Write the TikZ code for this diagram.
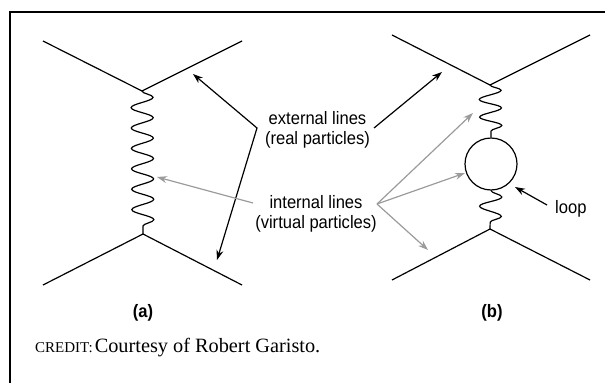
\documentclass[tikz,border=0pt]{standalone}
\usepackage{fontspec}
\setmainfont{Liberation Serif}
\setsansfont{Liberation Sans}
\newfontfamily\narrowsans{Liberation Sans}[FakeStretch=0.92]
\usetikzlibrary{positioning, decorations.pathmorphing, arrows.meta}

\definecolor{pointergrey}{RGB}{155,155,155}
\tikzset{
    >={Stealth[length=10pt, width=7pt]},
    fermionline/.style={line width=1.2pt},
    photonline/.style={line width=1.2pt, decorate, decoration={snake, amplitude=11pt, segment length=#1}},
    pointer/.style={line width=1.2pt},
    greypointer/.style={line width=1.2pt, draw=pointergrey},
    annot/.style={font=\narrowsans\fontsize{18}{20}\selectfont, align=center, inner sep=0pt},
    panel/.style={font=\narrowsans\bfseries\fontsize{18}{20}\selectfont, inner sep=0pt},
}

\begin{document}
\begin{tikzpicture}[x=1pt, y=-1pt]
    \useasboundingbox (0,0) rectangle (605,383);
    \draw[line width=2.8pt] (605,12) -- (10,12) -- (10,383);

    % (a) tree level exchange
    \coordinate (a1) at (43,41);
    \coordinate [right=199pt of a1] (a2);
    \coordinate (av1) at (142,91);
    \coordinate (av2) at (143,234);
    \coordinate (a3) at (43,285);
    \coordinate [right=199pt of a3] (a4);
    \draw[fermionline] (a1) -- (av1) -- (a2);
    \draw[fermionline] (a3) -- (av2) -- (a4);
    \draw[photonline=20.4pt] (av1) -- (av2);
    \node[panel] (panela) at (143,313) {(a)};

    % (b) one loop correction
    \coordinate (b1) at (392,35);
    \coordinate [right=198pt of b1] (b2);
    \coordinate (bv1) at (490,85);
    \node[draw, circle, line width=1.2pt, minimum size=52pt, inner sep=0pt] (loop) at (491,164) {};
    \coordinate (bv2) at (490,229);
    \coordinate (b3) at (392,280);
    \coordinate [right=198pt of b3] (b4);
    \draw[fermionline] (b1) -- (bv1) -- (b2);
    \draw[fermionline] (b3) -- (bv2) -- (b4);
    \draw[photonline=17.6pt] (bv1) -- (loop.north);
    \draw[photonline=19.5pt] (loop.south) -- (bv2);
    \node[panel] (panelb) at (492,313) {(b)};

    % labels
    \node[annot] (ext) at (317.5,130) {external lines\\(real particles)};
    \node[annot] (int) at (316,214) {internal lines\\(virtual particles)};
    \node[annot, anchor=base west] (lp) at (555,213) {loop};

    % pointers
    \coordinate (extl) at (257,128);
    \coordinate (extr) at (374,128);
    \coordinate (intl) at (253,203);
    \coordinate (intr) at (377,204);
    \coordinate (lpt) at (547,205);
    \coordinate (tipa1) at (193,74);
    \coordinate (tipa2) at (217,260);
    \coordinate (tipb) at (442,72);
    \coordinate (tipw) at (157,177);
    \coordinate (tipb1) at (473,113);
    \coordinate (tipb2) at (465,173);
    \coordinate (tipb3) at (428,250);
    \coordinate (tiploop) at (515,187);
    \draw[pointer, <->] (tipa1) -- (extl) -- (tipa2);
    \draw[pointer, ->] (extr) -- (tipb);
    \draw[greypointer, ->] (intl) -- (tipw);
    \draw[greypointer, ->] (intr) -- (tipb1);
    \draw[greypointer, ->] (intr) -- (tipb2);
    \draw[greypointer, ->] (intr) -- (tipb3);
    \draw[pointer, ->] (lpt) -- (tiploop);

    \node[anchor=base west, inner sep=0pt, font=\fontsize{20.3}{24}\selectfont] (credit) at (35,352)
        {{\fontsize{15}{17}\selectfont CREDIT:}\kern2pt Courtesy of Robert Garisto.};
\end{tikzpicture}
\end{document}
